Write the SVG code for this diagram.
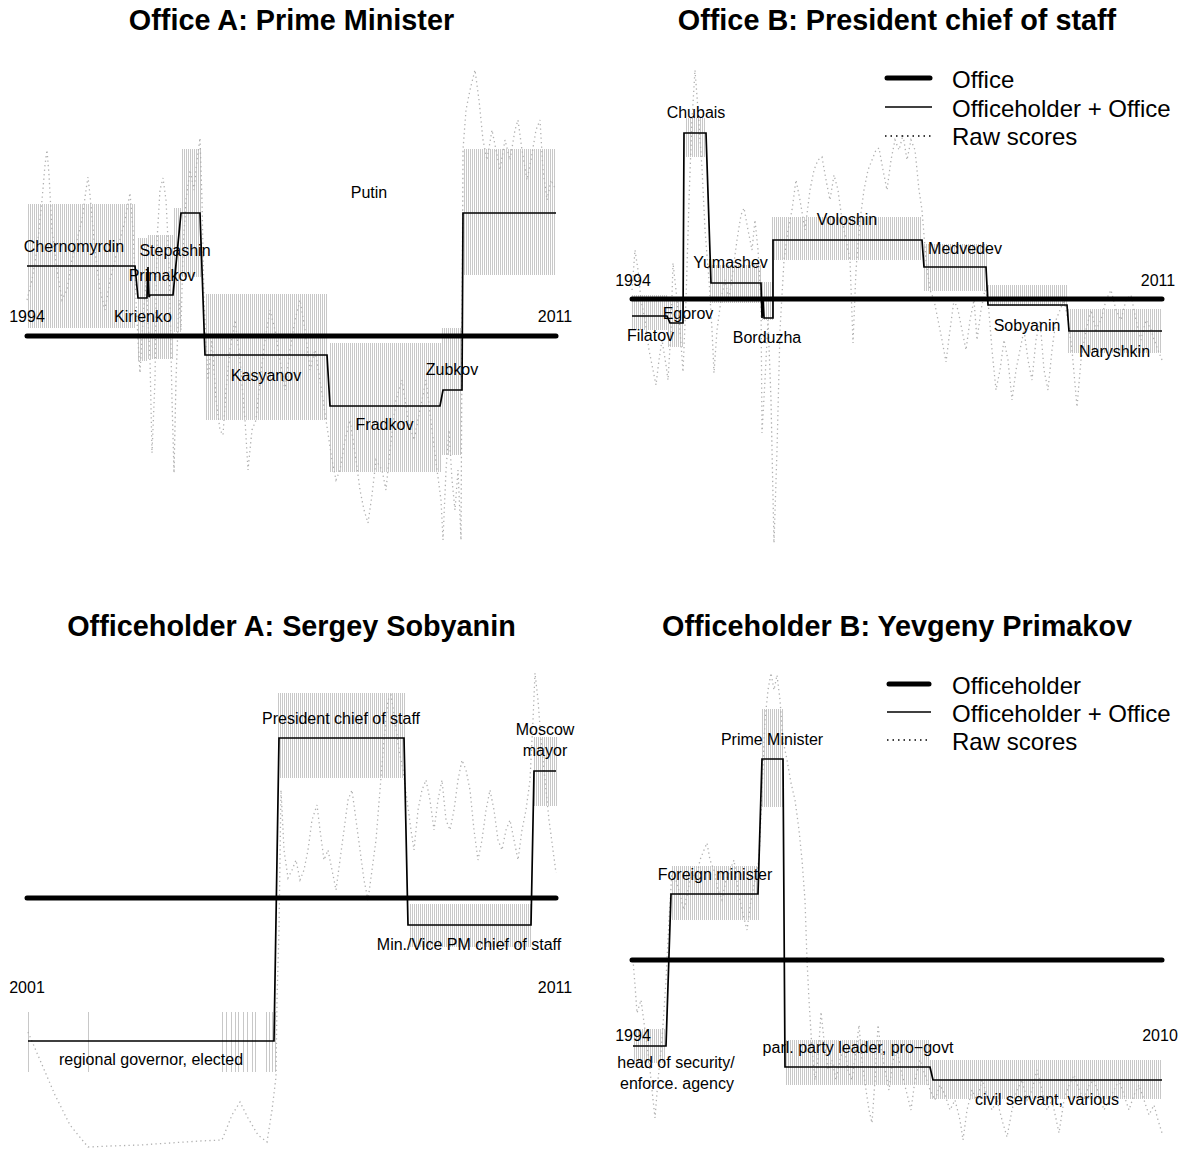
<svg xmlns="http://www.w3.org/2000/svg" width="1183" height="1150" viewBox="0 0 1183 1150">
<defs>
<pattern id="hatch" patternUnits="userSpaceOnUse" width="2" height="4"><rect x="0" y="0" width="1" height="4" fill="#c8c8c8"/></pattern>
<style>
text{font-family:"Liberation Sans",Arial,sans-serif;fill:#000}
.title{font-size:28.8px;font-weight:bold;text-anchor:middle}
.lab{font-size:16px;text-anchor:middle}
.leg{font-size:24px}
.band{fill:url(#hatch)}
.office{stroke:#000;stroke-width:5;stroke-linecap:round;fill:none}
.step{stroke:#000;stroke-width:1.7;fill:none;stroke-linejoin:miter}
.raw{stroke:#b0b0b0;stroke-width:1.3;stroke-dasharray:1.3 3.2;fill:none}
.sparse{stroke:#c8c8c8;stroke-width:1}
.legthin{stroke:#000;stroke-width:1.7}
.legdot{stroke:#000;stroke-width:1.5;stroke-dasharray:1.5 4}
</style>
</defs>
<rect width="1183" height="1150" fill="#fff"/>

<!-- Panel A -->
<g id="panelA">
<text class="title" x="291.5" y="30">Office A: Prime Minister</text>
<g id="panelA-bands">
<rect class="band" x="27" y="204" width="109" height="124"/>
<rect class="band" x="137" y="238" width="11" height="123"/>
<rect class="band" x="148" y="235" width="25" height="124"/>
<rect class="band" x="173" y="208" width="8" height="124"/>
<rect class="band" x="181" y="149" width="20" height="128"/>
<rect class="band" x="205" y="294" width="123" height="126"/>
<rect class="band" x="330" y="343" width="111" height="129"/>
<rect class="band" x="442" y="328" width="20" height="127"/>
<rect class="band" x="463" y="149" width="93" height="126"/>
</g>
<polyline class="raw" points="27,300 32,280 37,250 42,200 45,165 47,150 49,175 52,230 57,270 62,300 67,290 72,260 77,240 82,220 86,190 88,177 90,195 95,250 100,290 105,310 110,280 115,260 120,240 125,220 130,193 133,230 136,300 138,340 140,373 143,320 146,280 150,360 152,453 155,380 157,240 160,190 163,178 166,200 168,240 170,300 172,400 174,473 176,380 179,300 181,330 183,250 186,200 190,170 194,190 197,160 200,138 202,200 204,300 208,380 212,340 216,400 220,430 223,435 226,390 230,350 235,320 240,360 245,420 248,470 252,430 256,420 260,380 265,340 270,310 275,330 280,360 285,390 290,350 295,320 300,300 305,330 310,370 315,350 320,380 326,420 332,460 336,480 340,470 345,440 350,420 356,460 360,490 364,510 368,523 372,495 376,460 382,470 386,490 390,450 396,400 402,380 408,420 414,440 420,410 426,380 432,430 437,470 441,500 443,540 446,470 449,430 452,480 455,510 458,470 461,540 463,150 466,110 470,90 475,70 479,100 483,140 487,160 492,130 496,150 500,170 505,140 510,160 515,130 518,120 522,150 527,180 531,160 536,130 540,120 543,170 547,200 551,180 556,190"/>
<line class="office" x1="27" y1="336" x2="556" y2="336"/>
<polyline class="step" points="27,266 135,266 138,298 147,298 148,267 149,297 150,295 173,295 181,213 200,213 205,355 327,355 330,406 440,406 443,390 462,390 463,213 556,213"/>
<text class="lab" x="27" y="322">1994</text>
<text class="lab" x="555" y="322">2011</text>
<text class="lab" x="74" y="252">Chernomyrdin</text>
<text class="lab" x="175" y="256">Stepashin</text>
<text class="lab" x="162" y="281">Primakov</text>
<text class="lab" x="143" y="322">Kirienko</text>
<text class="lab" x="369" y="198">Putin</text>
<text class="lab" x="266" y="381">Kasyanov</text>
<text class="lab" x="384.5" y="430">Fradkov</text>
<text class="lab" x="452" y="375">Zubkov</text>
</g>

<!-- Panel B -->
<g id="panelB">
<text class="title" x="897" y="30">Office B: President chief of staff</text>
<g id="panelB-bands">
<rect class="band" x="632" y="295" width="36" height="35"/>
<rect class="band" x="668" y="300" width="15" height="47"/>
<rect class="band" x="685" y="118" width="21" height="39"/>
<rect class="band" x="710" y="265" width="52" height="38"/>
<rect class="band" x="762" y="282" width="11" height="38"/>
<rect class="band" x="772" y="217" width="150" height="43"/>
<rect class="band" x="923" y="244" width="64" height="47"/>
<rect class="band" x="988" y="285" width="79" height="21"/>
<rect class="band" x="1068" y="309" width="94" height="44"/>
</g>
<polyline class="raw" points="632,290 635,250 638,270 641,300 645,320 649,350 653,370 656,385 659,360 662,340 666,365 668,380 671,330 673,263 676,290 680,330 683,372 686,300 689,200 692,120 695,70 698,110 702,168 705,230 709,280 712,330 714,373 717,330 721,300 725,280 729,300 733,270 737,240 741,215 744,208 748,230 752,250 755,220 758,250 761,300 762,433 765,380 768,320 771,400 774,543 777,450 780,330 784,260 788,230 792,210 796,180 800,200 805,230 810,190 814,170 818,160 822,157 826,180 830,200 834,175 838,190 842,220 846,240 850,260 853,343 856,270 860,220 864,190 868,170 872,160 876,150 879,148 883,170 887,190 891,160 895,140 899,150 903,135 907,160 911,140 915,150 919,190 922,210 926,260 930,290 934,300 938,320 942,340 946,362 950,330 954,300 958,310 962,330 966,350 970,320 974,300 977,340 981,310 985,290 988,300 992,350 996,390 1000,370 1004,340 1008,360 1012,400 1016,370 1020,350 1024,330 1028,360 1032,380 1036,340 1040,320 1044,370 1048,390 1052,350 1056,320 1060,310 1064,300 1068,320 1072,350 1077,407 1081,360 1086,330 1091,310 1096,330 1101,320 1106,300 1111,290 1116,310 1121,320 1126,300 1131,295 1136,320 1141,340 1146,320 1151,330 1156,345 1162,360"/>
<line class="office" x1="632" y1="299" x2="1162" y2="299"/>
<polyline class="step" points="632,316 667,316 670,323 683,323 684,133 706,133 711,283 761,283 762,318 763,300 764,318 773,318 773,240 922,240 924,267 986,267 988,305 1067,305 1069,331 1162,331"/>
<text class="lab" x="633" y="286">1994</text>
<text class="lab" x="1158" y="286">2011</text>
<text class="lab" x="696" y="118">Chubais</text>
<text class="lab" x="847" y="225">Voloshin</text>
<text class="lab" x="730.5" y="268">Yumashev</text>
<text class="lab" x="965" y="254">Medvedev</text>
<text class="lab" x="688" y="319">Egorov</text>
<text class="lab" x="650.5" y="341">Filatov</text>
<text class="lab" x="767" y="343">Borduzha</text>
<text class="lab" x="1027" y="331">Sobyanin</text>
<text class="lab" x="1114.5" y="357">Naryshkin</text>
<g id="panelB-legend">
<line class="office" x1="887" y1="78" x2="930" y2="78"/>
<line class="legthin" x1="885" y1="107" x2="932" y2="107"/>
<line class="legdot" x1="885" y1="136" x2="932" y2="136"/>
<text class="leg" x="952" y="88">Office</text>
<text class="leg" x="952" y="117">Officeholder + Office</text>
<text class="leg" x="952" y="145">Raw scores</text>
</g>
</g>

<!-- Panel C -->
<g id="panelC">
<text class="title" x="291.5" y="636">Officeholder A: Sergey Sobyanin</text>
<g id="panelC-bands">
<rect class="band" x="278" y="693" width="127" height="85"/>
<rect class="band" x="409" y="904" width="122" height="43"/>
<rect class="band" x="533" y="737" width="24" height="69"/>
<path class="sparse" d="M28.5 1012V1072M88.5 1012V1072M222.5 1012V1072M226.5 1012V1072M231.5 1012V1072M235.5 1012V1072M238.5 1012V1072M243.5 1012V1072M247.5 1012V1072M252.5 1012V1072M255.5 1012V1072M266.5 1012V1072M269.5 1012V1072M272.5 1012V1072M275.5 1012V1072"/>
</g>
<polyline class="raw" points="28,1032 40,1060 55,1095 70,1125 88,1147 110,1146 140,1145 170,1143 200,1141 222,1140 232,1115 240,1102 248,1118 258,1135 267,1142 272,1110 276,1077 277,1000 279,930 280,860 281,790 284,850 288,878 292,870 296,860 300,880 304,870 308,850 312,820 317,805 320,830 324,860 328,850 332,870 336,890 340,860 344,830 348,800 352,790 356,820 360,850 364,880 368,900 372,870 376,840 380,790 384,740 388,700 391,695 395,720 399,750 403,770 407,800 411,830 414,850 418,810 422,790 426,780 430,800 434,830 438,800 442,780 446,820 450,830 454,810 458,780 462,760 466,770 470,790 474,830 478,860 482,840 486,810 490,790 494,810 498,840 502,850 506,830 510,820 514,840 518,860 522,830 526,810 530,780 533,720 535,673 538,700 541,740 545,780 549,820 553,850 556,873"/>
<line class="office" x1="27" y1="898" x2="556" y2="898"/>
<polyline class="step" points="28,1041 274,1041 279,738 404,738 408,925 531,925 534,771 556,771"/>
<text class="lab" x="27" y="993">2001</text>
<text class="lab" x="555" y="993">2011</text>
<text class="lab" x="341" y="724">President chief of staff</text>
<text class="lab" x="545" y="735">Moscow</text>
<text class="lab" x="545" y="756">mayor</text>
<text class="lab" x="469" y="950">Min./Vice PM chief of staff</text>
<text class="lab" x="151" y="1065">regional governor, elected</text>
</g>

<!-- Panel D -->
<g id="panelD">
<text class="title" x="897" y="636">Officeholder B: Yevgeny Primakov</text>
<g id="panelD-bands">
<rect class="band" x="633" y="1029" width="33" height="34"/>
<rect class="band" x="671" y="866" width="88" height="54"/>
<rect class="band" x="762" y="709" width="21" height="98"/>
<rect class="band" x="785" y="1040" width="145" height="45"/>
<rect class="band" x="930" y="1060" width="232" height="39"/>
</g>
<polyline class="raw" points="633,960 635,985 637,1013 641,1000 645,1030 649,1060 652,1090 655,1118 658,1080 662,1040 666,980 669,920 672,870 676,880 680,895 684,910 688,890 692,870 696,880 700,860 704,850 707,843 710,860 714,870 718,890 722,900 726,880 730,870 734,860 738,890 742,910 747,930 751,900 755,880 759,860 762,790 765,720 768,690 771,673 774,690 777,675 780,700 783,740 787,760 791,783 795,800 799,830 802,860 805,900 807,960 809,1000 812,1050 815,1080 818,1060 821,1012 824,1040 828,1070 832,1060 836,1080 840,1060 844,1045 848,1070 852,1080 856,1050 859,1025 862,1060 866,1090 869,1110 872,1123 875,1080 878,1025 881,1050 885,1070 889,1090 893,1060 897,1050 901,1070 906,1090 911,1110 915,1080 920,1060 925,1075 930,1090 935,1100 940,1085 945,1095 950,1110 955,1100 960,1120 963,1140 967,1110 972,1090 977,1100 982,1080 987,1095 992,1110 997,1100 1002,1120 1007,1137 1012,1110 1017,1090 1022,1080 1027,1100 1032,1090 1037,1070 1042,1090 1047,1110 1052,1100 1059,1133 1064,1100 1069,1085 1074,1075 1079,1090 1084,1100 1089,1085 1094,1080 1099,1095 1104,1110 1109,1100 1114,1090 1119,1080 1124,1095 1129,1110 1134,1095 1139,1085 1144,1100 1149,1115 1154,1105 1158,1120 1162,1133"/>
<line class="office" x1="632" y1="960" x2="1162" y2="960"/>
<polyline class="step" points="633,1046 666,1046 671,894 758,894 762,759 783,759 785,1067 930,1067 933,1080 1162,1080"/>
<text class="lab" x="633" y="1041">1994</text>
<text class="lab" x="1160" y="1041">2010</text>
<text class="lab" x="772" y="745">Prime Minister</text>
<text class="lab" x="715" y="880">Foreign minister</text>
<text class="lab" x="676" y="1068">head of security/</text>
<text class="lab" x="677" y="1089">enforce. agency</text>
<text class="lab" x="858" y="1053">parl. party leader, pro−govt</text>
<text class="lab" x="1047" y="1105">civil servant, various</text>
<g id="panelD-legend">
<line class="office" x1="889" y1="684" x2="929" y2="684"/>
<line class="legthin" x1="887" y1="712" x2="931" y2="712"/>
<line class="legdot" x1="887" y1="740" x2="931" y2="740"/>
<text class="leg" x="952" y="694">Officeholder</text>
<text class="leg" x="952" y="722">Officeholder + Office</text>
<text class="leg" x="952" y="750">Raw scores</text>
</g>
</g>
</svg>
